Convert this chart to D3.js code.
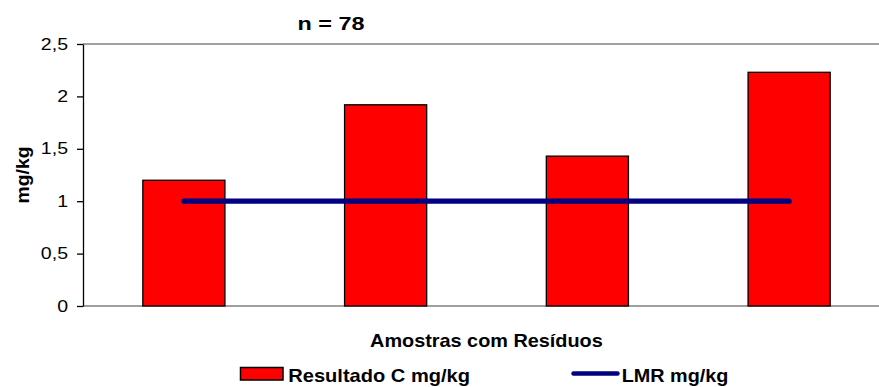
<!DOCTYPE html>
<html>
<head>
<meta charset="utf-8">
<script src="https://cdn.jsdelivr.net/npm/d3@7/dist/d3.min.js"></script>
<style>
  html, body { margin: 0; padding: 0; background: #fff; }
  svg { display: block; }
  text { font-family: "Liberation Sans", Arial, sans-serif; fill: #000; }
</style>
</head>
<body>
<svg id="chart" width="879" height="387"></svg>
<script>
// Samples with residues and their measured result vs. the maximum residue limit
const categories = ["Amostra 1", "Amostra 2", "Amostra 3", "Amostra 4"];
const resultado = [1.2, 1.92, 1.43, 2.23];
const lmr = [1, 1, 1, 1];
const yTicks = [0, 0.5, 1, 1.5, 2, 2.5];
const titleText = "n = 78";
const yTitle = "mg/kg";
const xTitle = "Amostras com Resíduos";
const seriesNames = ["Resultado C mg/kg", "LMR mg/kg"];

const svg = d3.select("#chart");
const plot = { left: 83, right: 890, top: 44, bottom: 306 };

const x = d3.scaleBand()
  .domain(categories)
  .range([plot.left, plot.right])
  .paddingInner(0.593)
  .paddingOuter(0.2965);

const y = d3.scaleLinear()
  .domain([0, 2.5])
  .range([plot.bottom, plot.top]);

const fmt = v => String(v).replace(".", ",");

// Stretch a text element to a given rendered width
function fit(sel, width) {
  sel.attr("textLength", width).attr("lengthAdjust", "spacingAndGlyphs");
  return sel;
}

// Gray frame lines at top and bottom of the plot area
svg.append("line")
  .attr("x1", plot.left).attr("x2", plot.right)
  .attr("y1", y(2.5)).attr("y2", y(2.5))
  .attr("stroke", "#808080").attr("stroke-width", 1.5);
svg.append("line")
  .attr("x1", plot.left).attr("x2", plot.right)
  .attr("y1", y(0)).attr("y2", y(0))
  .attr("stroke", "#808080").attr("stroke-width", 1.5);

// Bars
svg.append("g").selectAll("rect")
  .data(resultado)
  .join("rect")
  .attr("x", (d, i) => x(categories[i]))
  .attr("y", d => y(d))
  .attr("width", x.bandwidth())
  .attr("height", d => y(0) - y(d))
  .attr("fill", "#ff0000")
  .attr("stroke", "#000")
  .attr("stroke-width", 1.3);

// Y axis
const yAxis = d3.axisLeft(y)
  .tickValues(yTicks)
  .tickFormat(fmt)
  .tickSizeInner(6)
  .tickSizeOuter(0)
  .tickPadding(9);
const gy = svg.append("g")
  .attr("transform", `translate(${plot.left},0)`)
  .call(yAxis);
gy.select(".domain").attr("stroke", "#000").attr("stroke-width", 1.3);
gy.selectAll(".tick line").attr("stroke", "#000").attr("stroke-width", 1.3);
gy.selectAll(".tick text")
  .attr("font-size", 16)
  .attr("font-family", "'Liberation Sans', Arial, sans-serif")
  .attr("fill", "#000")
  .each(function () {
    const t = d3.select(this);
    const len = this.getComputedTextLength();
    fit(t, len * 1.22);
  });

// LMR line
const line = d3.line()
  .x((d, i) => x(categories[i]) + x.bandwidth() / 2)
  .y(d => y(d));
svg.append("path")
  .datum(lmr)
  .attr("d", line)
  .attr("fill", "none")
  .attr("stroke", "#000080")
  .attr("stroke-width", 5.3)
  .attr("stroke-linecap", "round");

// Titles
fit(svg.append("text")
  .attr("x", 331).attr("y", 30)
  .attr("text-anchor", "middle")
  .attr("font-size", 18.6).attr("font-weight", "bold")
  .text(titleText), 67);

fit(svg.append("text")
  .attr("transform", "translate(29,175) rotate(-90)")
  .attr("text-anchor", "middle")
  .attr("font-size", 17.5).attr("font-weight", "bold")
  .text(yTitle), 57);

fit(svg.append("text")
  .attr("x", 486.4).attr("y", 346.7)
  .attr("text-anchor", "middle")
  .attr("font-size", 18.6).attr("font-weight", "bold")
  .text(xTitle), 232.7);

// Legend
const legend = svg.append("g");
legend.append("rect")
  .attr("x", 240.5).attr("y", 367.5)
  .attr("width", 42.5).attr("height", 12.5)
  .attr("fill", "#ff0000").attr("stroke", "#000").attr("stroke-width", 1.5);
fit(legend.append("text")
  .attr("x", 288.3).attr("y", 381.7)
  .attr("font-size", 18.6).attr("font-weight", "bold")
  .text(seriesNames[0]), 181.7);
legend.append("line")
  .attr("x1", 573.5).attr("x2", 617.5)
  .attr("y1", 373.5).attr("y2", 373.5)
  .attr("stroke", "#000080").attr("stroke-width", 4.5)
  .attr("stroke-linecap", "round");
fit(legend.append("text")
  .attr("x", 621.7).attr("y", 381.7)
  .attr("font-size", 18.6).attr("font-weight", "bold")
  .text(seriesNames[1]), 106.7);
</script>
</body>
</html>
